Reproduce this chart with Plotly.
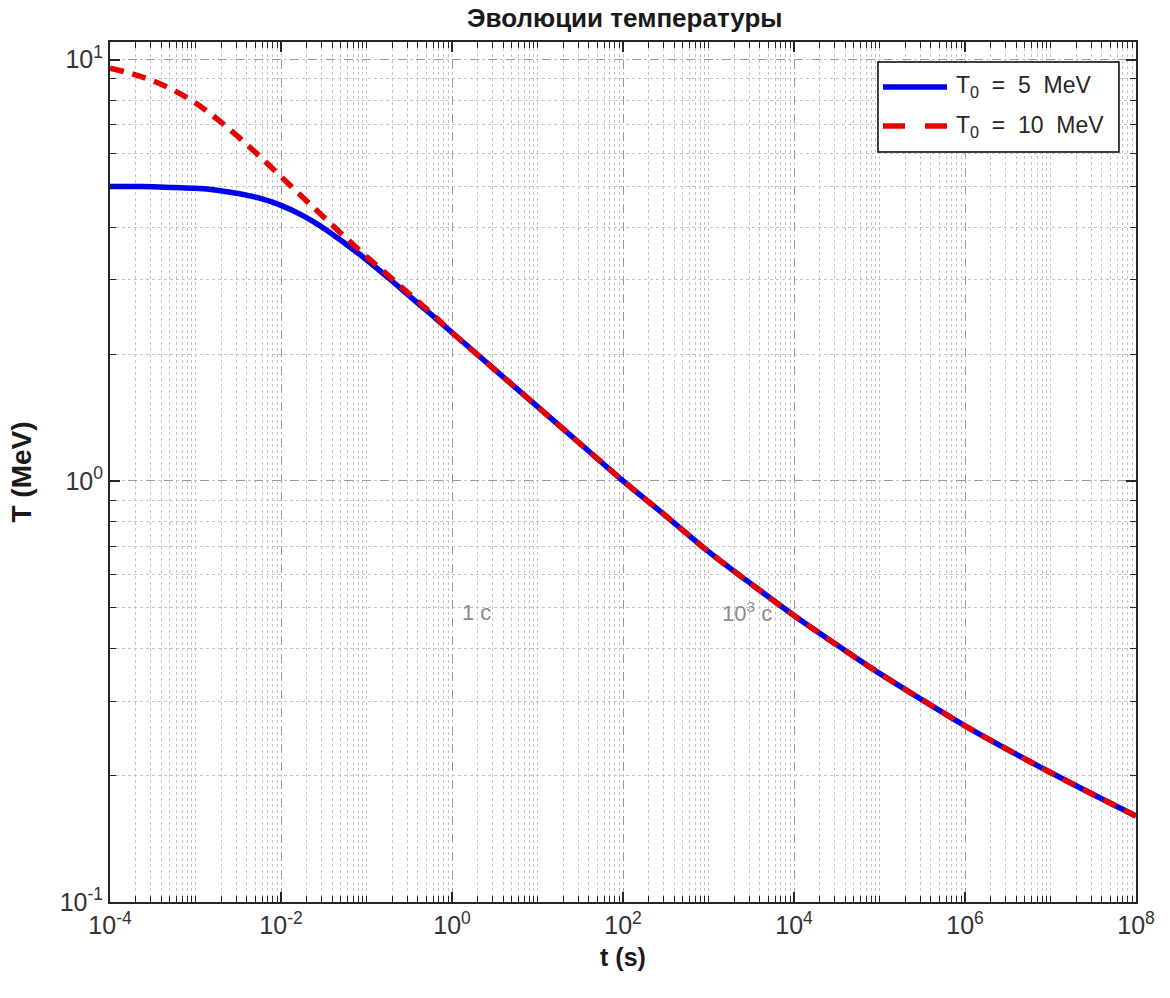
import math
import plotly.graph_objects as go

# ---- data ----
t_s = [1e-4, 1.78e-4, 3.16e-4, 5.62e-4, 1e-3, 1.78e-3, 3.16e-3, 5.62e-3,
       1e-2, 1.78e-2, 3.16e-2, 5.62e-2, 0.1, 0.178, 0.316, 0.562, 1.0,
       3.16, 10.0, 31.6, 100.0, 316.0, 1e3, 3.16e3, 1e4, 3.16e4, 1e5,
       3.16e5, 1e6, 3.16e6, 1e7, 3.16e7, 1e8]
T_5MeV = [5.00, 5.00, 4.99, 4.97, 4.95, 4.90, 4.81, 4.69,
          4.51, 4.27, 3.98, 3.66, 3.35, 3.04, 2.75, 2.49, 2.25,
          1.837, 1.500, 1.225, 1.000, 0.826, 0.679, 0.569, 0.479, 0.408, 0.349,
          0.302, 0.262, 0.230, 0.203, 0.180, 0.160]
T_10MeV = [9.55, 9.27, 8.91, 8.45, 7.89, 7.24, 6.56, 5.90,
           5.28, 4.72, 4.23, 3.79, 3.41, 3.08, 2.78, 2.51, 2.25,
           1.837, 1.500, 1.225, 1.000, 0.826, 0.679, 0.569, 0.479, 0.408, 0.349,
           0.302, 0.262, 0.230, 0.203, 0.180, 0.160]

NBSP = "\u00a0"
series_names = ["T<sub>0</sub>" + NBSP + " = " + NBSP + "5" + NBSP + " MeV",
                "T<sub>0</sub>" + NBSP + " = " + NBSP + "10" + NBSP + " MeV"]
series_colors = ["#0000ee", "#e60000"]

x_tickvals = [1e-4, 1e-2, 1, 1e2, 1e4, 1e6, 1e8]
x_ticktext = ["10<sup>-4</sup>", "10<sup>-2</sup>", "10<sup>0</sup>", "10<sup>2</sup>",
              "10<sup>4</sup>", "10<sup>6</sup>", "10<sup>8</sup>"]
y_tickvals = [0.1, 1, 10]
y_ticktext = ["10<sup>-1</sup>", "10<sup>0</sup>", "10<sup>1</sup>"]

note_x = [1.24, 1.36e3]
note_y = [0.487, 0.487]
note_text = ["1 c", "10<sup>3</sup> c"]

FONT = "Liberation Sans, Arial, sans-serif"

fig = go.Figure()
fig.add_trace(go.Scatter(x=t_s, y=T_5MeV, mode="lines", name=series_names[0], showlegend=False,
                         line=dict(color=series_colors[0], width=5.5, shape="spline")))
fig.add_trace(go.Scatter(x=t_s, y=T_10MeV, mode="lines", name=series_names[1], showlegend=False,
                         line=dict(color=series_colors[1], width=5.5, shape="spline", dash="14px,9px")))

# annotations (log axes take log10 positions)
for xx, yy, tt in zip(note_x, note_y, note_text):
    fig.add_annotation(x=math.log10(xx), y=math.log10(yy), xref="x", yref="y", text=tt,
                       showarrow=False, xanchor="left", yanchor="middle",
                       font=dict(family=FONT, size=22, color="#8c8c8c"))

# legend box (drawn like the MATLAB legend)
fig.add_shape(type="rect", xref="paper", yref="paper", x0=0.7485, x1=0.9834, y0=0.8721, y1=0.9767,
              fillcolor="white", line=dict(color="#000000", width=1.5), layer="above")
legend_y = [0.9477, 0.9023]
legend_dash = ["solid", "22px,20px"]
for i in range(2):
    fig.add_shape(type="line", xref="paper", yref="paper", x0=0.7534, x1=0.8158,
                  y0=legend_y[i], y1=legend_y[i], layer="above",
                  line=dict(color=series_colors[i], width=5.5, dash=legend_dash[i]))
    fig.add_annotation(x=0.8225, y=legend_y[i], xref="paper", yref="paper", text=series_names[i],
                       showarrow=False, xanchor="left", yanchor="middle",
                       font=dict(family=FONT, size=23, color="#262626"))

axis_common = dict(
    type="log", showline=True, linecolor="#262626", linewidth=2, mirror="allticks",
    ticks="inside", ticklen=10, tickwidth=1.5, tickcolor="#262626",
    showgrid=True, gridcolor="#9a9a9a", gridwidth=1.3, griddash="dash",
    tickmode="array", zeroline=False,
    tickfont=dict(family=FONT, size=25, color="#333333"),
    minor=dict(dtick="D1", ticks="inside", ticklen=6, tickwidth=1.2, tickcolor="#262626",
               showgrid=True, gridcolor="#c4c4c4", gridwidth=1, griddash="dot"),
)

fig.update_xaxes(**axis_common, range=[-4, 8], tickvals=x_tickvals, ticktext=x_ticktext,
                 title=dict(text="<b>t (s)</b>", font=dict(family=FONT, size=25, color="#1a1a1a"),
                            standoff=10))
fig.update_yaxes(**axis_common, range=[-1.0, 1.042], tickvals=y_tickvals, ticktext=y_ticktext,
                 title=dict(text="<b>T (MeV)</b>", font=dict(family=FONT, size=28, color="#1a1a1a"),
                            standoff=20))

fig.update_layout(
    width=1170, height=998,
    margin=dict(l=110, r=34, t=42, b=96),
    paper_bgcolor="white", plot_bgcolor="white",
    title=dict(text="<b>Эволюции температуры</b>", x=0.534, xanchor="center", y=0.982, yanchor="middle",
               font=dict(family=FONT, size=26, color="#1a1a1a")),
    showlegend=False,
)

fig.write_html("out.html", config={"displayModeBar": False},
               post_script="document.body.style.margin='0px';")
